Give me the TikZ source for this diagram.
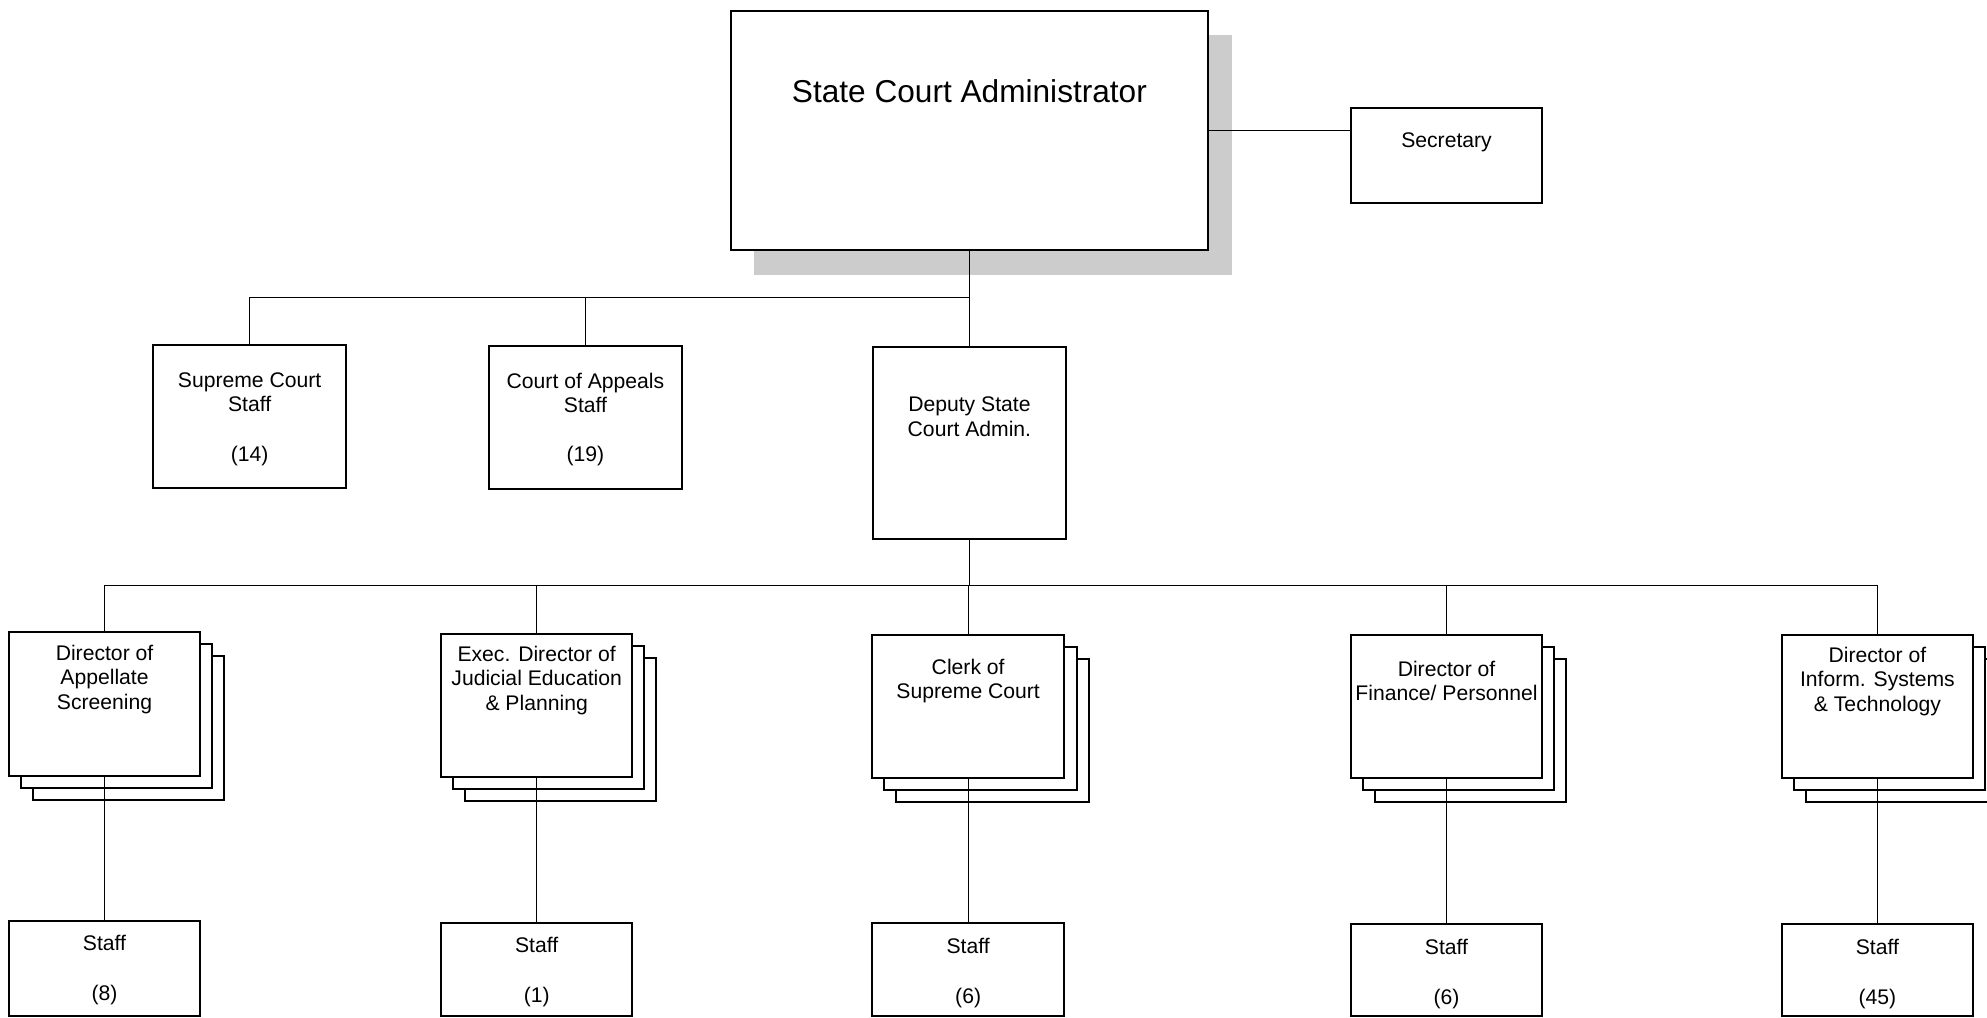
\documentclass[tikz,border=0pt]{standalone}
\usepackage{fontspec}
\setmainfont{Liberation Sans}
\tikzset{
  box/.style={draw, line width=0.9pt, fill=white, rectangle, inner sep=0pt, outer sep=0pt},
  conn/.style={line width=0.5pt},
  lbl/.style={font=\fontsize{9.5}{11}\selectfont, align=center, inner sep=0pt},
  biglbl/.style={font=\fontsize{14.2}{17}\selectfont, align=center, inner sep=0pt}
}
\newcommand\bx[5]{\node[box, minimum width={((#4)-(#2))*0.02cm}, minimum height={((#5)-(#3))*0.02cm}] (#1) at ({((#2)+(#4))/2},{((#3)+(#5))/2}) {};}
\newcommand\stk[5]{%
  \bx{#1c}{#2+19}{#3+19}{#4+19}{#5+19}%
  \bx{#1b}{#2+9.5}{#3+9.5}{#4+9.5}{#5+9.5}%
  \bx{#1}{#2}{#3}{#4}{#5}}
\begin{document}
\begin{tikzpicture}[x=0.02cm, y=-0.02cm]
\useasboundingbox (0,0) rectangle (1568,803);
\clip (0,0) rectangle (1568,803);
% shadow of top box
\fill[black!20] (595,28) rectangle (972,217);
% boxes
\bx{sca}{577}{9}{953}{197}
\bx{sec}{1066}{85}{1217}{160}
\bx{scs}{121}{272}{273}{385}
\bx{coa}{386}{273}{538}{386}
\bx{dep}{689}{274}{841}{425}
\stk{dapp}{7}{499}{158}{612}
\stk{dexe}{348}{500}{499}{613}
\stk{dclk}{688}{501}{840}{614}
\stk{dfin}{1066}{501}{1217}{614}
\stk{dinf}{1406}{501}{1557}{614}
\bx{sapp}{7}{727}{158}{802}
\bx{sexe}{348}{728}{499}{802}
\bx{sclk}{688}{728}{840}{802}
\bx{sfin}{1066}{729}{1217}{802}
\bx{sinf}{1406}{729}{1557}{802}
% bus coordinates
\coordinate (b1) at (765,235);
\coordinate (b2) at (764,462);
% connectors
\draw[conn] (sca.east) -- (sca.east -| sec.west);
\draw[conn] (sca.south) -- (dep.north);
\draw[conn] (scs.north) |- (b1);
\draw[conn] (coa.north) -- (coa.north |- b1);
\draw[conn] (dep.south) -- (dep.south |- b2);
\draw[conn] (dapp.north) |- (b2) -| (dinf.north);
\draw[conn] (dclk.north) -- (dclk.north |- b2);
\draw[conn] (dexe.north) -- (dexe.north |- b2);
\draw[conn] (dfin.north) -- (dfin.north |- b2);
\draw[conn] (dapp.south) -- (sapp.north);
\draw[conn] (dexe.south) -- (sexe.north);
\draw[conn] (dclk.south) -- (sclk.north);
\draw[conn] (dfin.south) -- (sfin.north);
\draw[conn] (dinf.south) -- (sinf.north);
% labels
\node[biglbl] (tsca) at (765,72) {State Court Administrator};
\node[lbl] (tsec) at (1141.5,112) {Secretary};
\node[lbl] (tscs) at (197,309.5) {Supreme Court\\Staff};
\node[lbl] (nscs) at (197,360) {(14)};
\node[lbl] (tcoa) at (462,310) {Court of Appeals\\Staff};
\node[lbl] (ncoa) at (462,360) {(19)};
\node[lbl] (tdep) at (765,329) {Deputy State\\Court Admin.};
\node[lbl] (tdapp) at (82.5,536) {Director of\\Appellate\\Screening};
\node[lbl] (tdexe) at (423.5,537) {Exec. Director of\\Judicial Education\\\& Planning};
\node[lbl] (tdclk) at (764,537.5) {Clerk of\\Supreme Court};
\node[lbl] (tdfin) at (1141.5,537.5) {Director of\\Finance/ Personnel};
\node[lbl] (tdinf) at (1481.5,537.5) {Director of\\Inform. Systems\\\& Technology};
\foreach \n/\x/\y/\c in {sapp/82.5/744.5/8, sexe/423.5/745.5/1, sclk/764/746.5/6, sfin/1141.5/747/6, sinf/1481.5/747/45}{
  \node[lbl] (t\n) at (\x,\y) {Staff};
  \node[lbl] (c\n) at (\x,{\y+41}) {(\c)};
}
\end{tikzpicture}
\end{document}
